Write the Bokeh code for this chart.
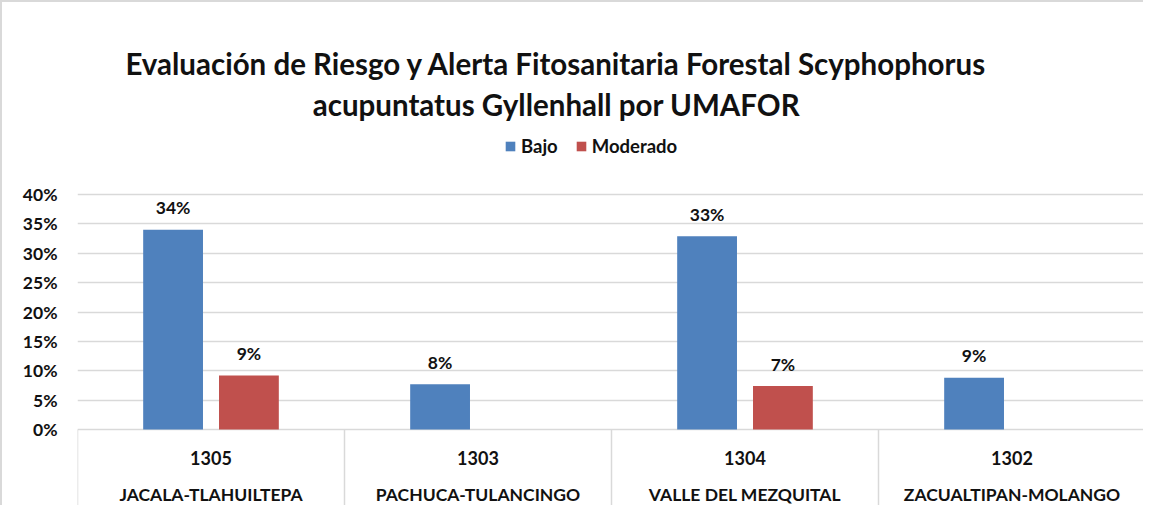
import numpy as np
from bokeh.plotting import figure
from bokeh.models import (Range1d, FixedTicker, PrintfTickFormatter, Legend,
                          LegendItem, ColumnDataSource)
from bokeh.core.properties import value
from bokeh.embed import file_html
from bokeh.resources import INLINE

# ---- data ----
codes = ["1305", "1303", "1304", "1302"]
names = ["JACALA-TLAHUILTEPA", "PACHUCA-TULANCINGO", "VALLE DEL MEZQUITAL", "ZACUALTIPAN-MOLANGO"]
bajo = [34.0, 7.7, 32.9, 8.8]
moderado = [9.2, None, 7.4, None]
y_ticks = [0, 5, 10, 15, 20, 25, 30, 35, 40]
title_lines = ["Evaluación de Riesgo y Alerta Fitosanitaria Forestal Scyphophorus",
               "acupuntatus Gyllenhall por UMAFOR"]

BLUE = "#4F81BD"
RED = "#C0504D"
GRID = "#d9d9d9"
TXT = "#111111"
FONT = value("Lato")

# ---- layout constants (pixels, image coords = canvas + border) ----
BORDER = 2
W, H = 1143, 505
FRAME_LEFT = 77 - BORDER
MB_BOTTOM = 0
ZERO_REF = 429
PX_PER_UNIT = (429 - 194) / 40.0
ZERO_PX = ZERO_REF - BORDER
frame_bottom = H - MB_BOTTOM
frame_w = W - FRAME_LEFT
y_top = ZERO_PX / PX_PER_UNIT
y_bot = -(frame_bottom - ZERO_PX) / PX_PER_UNIT
n = len(codes)
cat_px = frame_w / n


def y_of(ref_px):
    return (ZERO_REF - ref_px) / PX_PER_UNIT


def x_of(ref_px):
    return (ref_px - 77) / cat_px


p = figure(width=W, height=H, x_range=Range1d(0, n), y_range=Range1d(y_bot, y_top),
           output_backend="svg", toolbar_location=None, x_axis_location=None,
           min_border_left=FRAME_LEFT, min_border_right=0,
           min_border_top=0, min_border_bottom=MB_BOTTOM)
p.styles = {"border-top": "2px solid #d9d9d9", "border-left": "2px solid #d9d9d9"}
p.outline_line_color = None
p.background_fill_color = "white"
p.border_fill_color = "white"
p.xgrid.visible = False
p.ygrid.ticker = FixedTicker(ticks=y_ticks)
p.ygrid.grid_line_color = GRID
p.ygrid.grid_line_width = 1.5

ax = p.yaxis[0]
ax.ticker = FixedTicker(ticks=y_ticks)
ax.formatter = PrintfTickFormatter(format="%d%%")
ax.axis_line_color = None
ax.major_tick_line_color = None
ax.minor_tick_line_color = None
ax.major_tick_out = 0
ax.major_tick_in = 0
ax.major_label_standoff = 20
ax.major_label_text_font = "Lato"
ax.major_label_text_font_style = "bold"
ax.major_label_text_font_size = "17.5px"
ax.major_label_text_color = TXT

# ---- bars ----
idx = np.arange(n)
centers = idx + 0.5
off = 0.142
bw = 0.224

src_b = ColumnDataSource(dict(x=centers - off, top=bajo,
                              lab=[f"{round(v)}%" for v in bajo]))
mi = [i for i, v in enumerate(moderado) if v is not None]
src_m = ColumnDataSource(dict(x=[centers[i] + off for i in mi], top=[moderado[i] for i in mi],
                              lab=[f"{round(moderado[i])}%" for i in mi]))

rb = p.vbar(x="x", top="top", bottom=0, width=bw, source=src_b, fill_color=BLUE, line_color=None)
rm = p.vbar(x="x", top="top", bottom=0, width=bw, source=src_m, fill_color=RED, line_color=None)

for s in (src_b, src_m):
    p.text(x="x", y="top", text="lab", source=s, text_font=FONT, text_font_style="bold",
           text_font_size="17.5px", text_color=TXT, text_align="center",
           text_baseline="middle", y_offset=-22)

# ---- category table ----
p.segment(x0=list(range(n + 1)), y0=[0] * (n + 1), x1=list(range(n + 1)), y1=[y_bot] * (n + 1),
          line_color=GRID, line_width=1.5)
p.text(x=list(centers), y=[y_of(457)] * n, text=codes, text_font=FONT, text_font_style="bold",
       text_font_size="18px", text_color=TXT, text_align="center", text_baseline="middle")
p.text(x=list(centers), y=[y_of(494)] * n, text=names, text_font=FONT, text_font_style="bold",
       text_font_size="17.5px", text_color=TXT, text_align="center", text_baseline="middle")

# ---- title ----
p.text(x=[x_of(556)] * 2, y=[y_of(63), y_of(104)], text=title_lines, text_font=FONT,
       text_font_style="bold", text_font_size="29.5px", text_color=TXT,
       text_align="center", text_baseline="alphabetic")

# ---- legend ----
legend = Legend(items=[LegendItem(label="Bajo", renderers=[rb]),
                       LegendItem(label="Moderado", renderers=[rm])],
                orientation="horizontal", location=(504 - 77, frame_bottom - (146 - BORDER) - 11),
                padding=0, margin=0, spacing=17, label_standoff=5,
                glyph_width=12, glyph_height=12, label_height=22,
                border_line_color=None, background_fill_alpha=0,
                label_text_font="Lato", label_text_font_style="bold",
                label_text_font_size="18.5px", label_text_color=TXT)
p.add_layout(legend, "center")

open("out.html", "w").write(file_html(p, INLINE))
